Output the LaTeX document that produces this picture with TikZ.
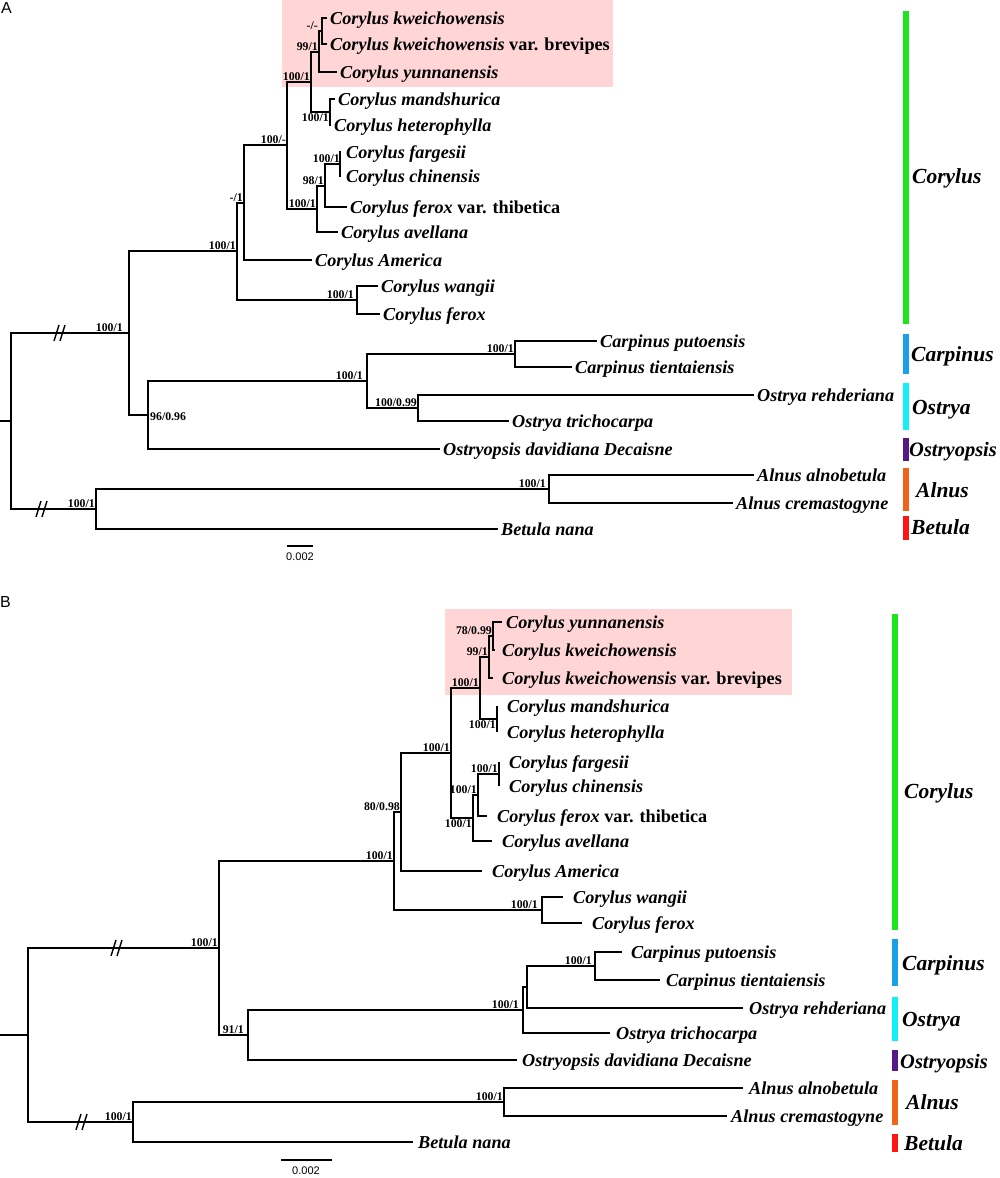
\documentclass[tikz,border=0pt]{standalone}
\usepackage{fontspec}
\setmainfont{Liberation Serif}
\newfontfamily\arialfont{Liberation Sans}

\definecolor{cladeshade}{RGB}{255,213,213}
\definecolor{corylusgreen}{RGB}{30,230,30}
\definecolor{carpinusblue}{RGB}{25,160,230}
\definecolor{ostryacyan}{RGB}{20,240,250}
\definecolor{ostryopsispurple}{RGB}{85,25,135}
\definecolor{alnusorange}{RGB}{240,100,25}
\definecolor{betulared}{RGB}{255,20,20}

\tikzset{
  branch/.style={line width=2pt},
  tip/.style={anchor=west, inner xsep=3pt, inner ysep=0pt, text height=14pt, text depth=2pt,
    font=\fontsize{18.2}{20}\selectfont\bfseries\itshape},
  tipB/.style={tip, inner xsep=7pt},
  supp/.style={anchor=south east, inner sep=1pt, font=\fontsize{11.8}{12}\selectfont\bfseries},
  suppbelow/.style={supp, anchor=north east},
  clade/.style={anchor=west, inner sep=0pt, text height=14pt, text depth=0pt,
    font=\fontsize{21.5}{23}\selectfont\bfseries\itshape},
  cladebar/.style={line width=6pt},
  scalebar/.style={line width=1.4pt},
  panel/.style={anchor=north west, inner sep=0pt, font=\arialfont\fontsize{16}{16}\selectfont},
}

\begin{document}
\begin{tikzpicture}[x=1pt, y=-1pt]
    \providecommand{\cutmark}[2]{\draw[line width=1.4pt] (#1-6,#2+8) -- (#1-1,#2-8) (#1,#2+8) -- (#1+5,#2-8);}
    \useasboundingbox (0,0) rectangle (1000,1178);

    % ---------------- panel A ----------------
    \fill[cladeshade] (282,0) rectangle (613,87);
    \node[panel] (lblA) at (1,2) {A};

    \coordinate (a0) at (0,421);
    \coordinate (aroot) at (11,421);
    \coordinate (aing) at (129,333);
    \coordinate (acor) at (237,251);
    \coordinate (acam) at (244,203);
    \coordinate (aasia) at (287,145);
    \coordinate (akw) at (311,82);
    \coordinate (ayk) at (319,52);
    \coordinate (akk) at (322,31);
    \coordinate (amh) at (330,112);
    \coordinate (afa) at (317,209);
    \coordinate (afc) at (325,186);
    \coordinate (afg) at (340,164);
    \coordinate (awf) at (357,300);
    \coordinate (aoc) at (148,415);
    \coordinate (aco) at (367,381);
    \coordinate (acarp) at (515,354);
    \coordinate (aost) at (418,408);
    \coordinate (aab) at (96,509);
    \coordinate (aaln) at (549,489);

    \node[tip] (akwei) at (327,18) {Corylus kweichowensis};
    \node[tip] (abrev) at (327,44) {Corylus kweichowensis {\upshape var. brevipes}};
    \node[tip] (ayun) at (337,72) {Corylus yunnanensis};
    \node[tip] (amand) at (335,99) {Corylus mandshurica};
    \node[tip] (ahet) at (331,125) {Corylus heterophylla};
    \node[tip, inner xsep=5pt] (afarg) at (341,152) {Corylus fargesii};
    \node[tip, inner xsep=5pt] (achin) at (341,176) {Corylus chinensis};
    \node[tip] (afthib) at (347,207) {Corylus ferox {\upshape var. thibetica}};
    \node[tip] (aaven) at (338,232) {Corylus avellana};
    \node[tip] (aamer) at (312,260) {Corylus America};
    \node[tip] (awang) at (378,286) {Corylus wangii};
    \node[tip] (aferox) at (380,314) {Corylus ferox};
    \node[tip] (aput) at (597,341) {Carpinus putoensis};
    \node[tip] (atien) at (572,367) {Carpinus tientaiensis};
    \node[tip] (areh) at (754,395) {Ostrya rehderiana};
    \node[tip] (atri) at (509,421) {Ostrya trichocarpa};
    \node[tip] (aopsis) at (440,449) {Ostryopsis davidiana Decaisne};
    \node[tip] (aalno) at (754,475) {Alnus alnobetula};
    \node[tip] (acrem) at (733,503) {Alnus cremastogyne};
    \node[tip] (abet) at (498,529) {Betula nana};

    \draw[branch] (a0) -- (aroot);
    \draw[branch] (aroot) |- (aing) (aroot) |- (aab);
    \draw[branch] (aing) |- (acor) (aing) |- (aoc);
    \draw[branch] (acor) |- (acam) (acor) |- (awf);
    \draw[branch] (acam) |- (aasia) (acam) |- (aamer.west);
    \draw[branch] (aasia) |- (akw) (aasia) |- (afa);
    \draw[branch] (akw) |- (ayk) (akw) |- (amh);
    \draw[branch] (ayk) |- (akk) (ayk) |- (ayun.west);
    \draw[branch] (akk) |- (akwei.west) (akk) |- (abrev.west);
    \draw[branch] (amh) |- (amand.west) (amh) |- (ahet.west);
    \draw[branch] (afa) |- (afc) (afa) |- (aaven.west);
    \draw[branch] (afc) |- (afg) (afc) |- (afthib.west);
    \draw[branch] (afg) |- ([xshift=-2pt]afarg.west) (afg) |- ([xshift=-2pt]achin.west);
    \draw[branch] (awf) |- (awang.west) (awf) |- (aferox.west);
    \draw[branch] (aoc) |- (aco) (aoc) |- (aopsis.west);
    \draw[branch] (aco) |- (acarp) (aco) |- (aost);
    \draw[branch] (acarp) |- (aput.west) (acarp) |- (atien.west);
    \draw[branch] (aost) |- (areh.west) (aost) |- (atri.west);
    \draw[branch] (aab) |- (aaln) (aab) |- (abet.west);
    \draw[branch] (aaln) |- (aalno.west) (aaln) |- (acrem.west);
    \cutmark{60}{333}
    \cutmark{42}{509}

    \node[supp, xshift=-5pt] (sAing) at (aing) {100/1};
    \node[supp] (sAcor) at (acor) {100/1};
    \node[supp] (sAcam) at (acam) {-/1};
    \node[supp] (sAasia) at (aasia) {100/-};
    \node[supp] (sAkw) at (akw) {100/1};
    \node[supp] (sAyk) at (ayk) {99/1};
    \node[supp, xshift=-3pt] (sAkk) at (akk) {-/-};
    \node[suppbelow] (sAmh) at (amh) {100/1};
    \node[supp] (sAfa) at (afa) {100/1};
    \node[supp] (sAfc) at (afc) {98/1};
    \node[supp, xshift=1pt] (sAfg) at (afg) {100/1};
    \node[supp, xshift=-2pt] (sAwf) at (awf) {100/1};
    \node[supp, anchor=west, xshift=1pt, yshift=-2pt] (sAoc) at (aoc) {96/0.96};
    \node[supp, xshift=-3pt] (sAco) at (aco) {100/1};
    \node[supp] (sAcarp) at (acarp) {100/1};
    \node[supp] (sAost) at (aost) {100/0.99};
    \node[supp] (sAab) at (aab) {100/1};
    \node[supp, xshift=-2pt] (sAaln) at (aaln) {100/1};

    \draw[scalebar] (287,546) -- (313,546);
    \node[anchor=north, inner sep=0pt, font=\arialfont\fontsize{11}{11}\selectfont] (scA) at (300,553) {0.002};

    \draw[cladebar, corylusgreen] (906,11) -- (906,324);
    \draw[cladebar, carpinusblue] (906,334) -- (906,374);
    \draw[cladebar, ostryacyan] (906,383) -- (906,430);
    \draw[cladebar, ostryopsispurple] (906,438) -- (906,461);
    \draw[cladebar, alnusorange] (906,468) -- (906,511);
    \draw[cladebar, betulared] (906,516) -- (906,540);
    \node[clade] (cAcor) at (912,176) {Corylus};
    \node[clade] (cAcarp) at (911,354) {Carpinus};
    \node[clade] (cAost) at (912,407) {Ostrya};
    \node[clade, font=\fontsize{20.5}{22}\selectfont\bfseries\itshape] (cAopsis) at (909,449) {Ostryopsis};
    \node[clade] (cAaln) at (916,490) {Alnus};
    \node[clade] (cAbet) at (911,527) {Betula};

    % ---------------- panel B ----------------
    \fill[cladeshade] (445,609) rectangle (792,695);
    \node[panel] (lblB) at (0,596) {B};

    \coordinate (b0) at (0,1035);
    \coordinate (broot) at (28,1035);
    \coordinate (bing) at (219,948);
    \coordinate (bcor) at (394,861);
    \coordinate (bcam) at (401,812);
    \coordinate (basia) at (451,753);
    \coordinate (bkw) at (480,688);
    \coordinate (byk) at (489,657);
    \coordinate (byu) at (493,636);
    \coordinate (bmh) at (497,719);
    \coordinate (bfa) at (473,818);
    \coordinate (bfc) at (478,795);
    \coordinate (bfg) at (499,774);
    \coordinate (bwf) at (542,910);
    \coordinate (boc) at (248,1035);
    \coordinate (bco) at (523,1010);
    \coordinate (bcr) at (527,987);
    \coordinate (bcarp) at (595,966);
    \coordinate (bab) at (133,1122);
    \coordinate (baln) at (504,1102);

    \node[tipB, inner xsep=4pt] (byun) at (502,622) {Corylus yunnanensis};
    \node[tipB] (bkwei) at (495,650) {Corylus kweichowensis};
    \node[tipB, inner xsep=9pt] (bbrev) at (493,678) {Corylus kweichowensis {\upshape var. brevipes}};
    \node[tipB, inner xsep=10pt] (bmand) at (497,706) {Corylus mandshurica};
    \node[tipB, inner xsep=10pt] (bhet) at (497,732) {Corylus heterophylla};
    \node[tipB, inner xsep=10pt] (bfarg) at (499,762) {Corylus fargesii};
    \node[tipB, inner xsep=10pt] (bchin) at (499,786) {Corylus chinensis};
    \node[tipB, inner xsep=10pt] (bfthib) at (487,816) {Corylus ferox {\upshape var. thibetica}};
    \node[tipB, inner xsep=10pt] (baven) at (492,841) {Corylus avellana};
    \node[tipB, inner xsep=10pt] (bamer) at (482,871) {Corylus America};
    \node[tipB, inner xsep=10pt] (bwang) at (563,897) {Corylus wangii};
    \node[tipB, inner xsep=10pt] (bferox) at (582,923) {Corylus ferox};
    \node[tipB, inner xsep=9pt] (bput) at (622,952) {Carpinus putoensis};
    \node[tipB, inner xsep=6pt] (btien) at (660,980) {Carpinus tientaiensis};
    \node[tipB, inner xsep=6pt] (breh) at (743,1008) {Ostrya rehderiana};
    \node[tipB, inner xsep=6pt] (btri) at (610,1033) {Ostrya trichocarpa};
    \node[tipB, inner xsep=5pt] (bopsis) at (517,1060) {Ostryopsis davidiana Decaisne};
    \node[tipB, inner xsep=6pt] (balno) at (743,1088) {Alnus alnobetula};
    \node[tipB, inner xsep=4pt] (bcrem) at (727,1116) {Alnus cremastogyne};
    \node[tipB, inner xsep=5pt] (bbet) at (413,1142) {Betula nana};

    \draw[branch] (b0) -- (broot);
    \draw[branch] (broot) |- (bing) (broot) |- (bab);
    \draw[branch] (bing) |- (bcor) (bing) |- (boc);
    \draw[branch] (bcor) |- (bcam) (bcor) |- (bwf);
    \draw[branch] (bcam) |- (basia) (bcam) |- (bamer.west);
    \draw[branch] (basia) |- (bkw) (basia) |- (bfa);
    \draw[branch] (bkw) |- (byk) (bkw) |- (bmh);
    \draw[branch] (byk) |- (byu) (byk) |- (bbrev.west);
    \draw[branch] (byu) |- (byun.west) (byu) |- (bkwei.west);
    \draw[branch] (bmh) |- (bmand.west) (bmh) |- (bhet.west);
    \draw[branch] (bfa) |- (bfc) (bfa) |- (baven.west);
    \draw[branch] (bfc) |- (bfg) (bfc) |- (bfthib.west);
    \draw[branch] (bfg) |- (bfarg.west) (bfg) |- (bchin.west);
    \draw[branch] (bwf) |- (bwang.west) (bwf) |- (bferox.west);
    \draw[branch] (boc) |- (bco) (boc) |- (bopsis.west);
    \draw[branch] (bco) |- (bcr) (bco) |- (btri.west);
    \draw[branch] (bcr) |- (bcarp) (bcr) |- (breh.west);
    \draw[branch] (bcarp) |- (bput.west) (bcarp) |- (btien.west);
    \draw[branch] (bab) |- (baln) (bab) |- (bbet.west);
    \draw[branch] (baln) |- (balno.west) (baln) |- (bcrem.west);
    \cutmark{117}{948}
    \cutmark{82}{1122}

    \node[supp] (sBing) at (bing) {100/1};
    \node[supp] (sBcor) at (bcor) {100/1};
    \node[supp] (sBcam) at (bcam) {80/0.98};
    \node[supp] (sBasia) at (basia) {100/1};
    \node[supp] (sBkw) at (bkw) {100/1};
    \node[supp] (sByk) at (byk) {99/1};
    \node[supp] (sByu) at (byu) {78/0.99};
    \node[suppbelow] (sBmh) at (bmh) {100/1};
    \node[suppbelow] (sBfa) at (bfa) {100/1};
    \node[supp] (sBfc) at (bfc) {100/1};
    \node[supp] (sBfg) at (bfg) {100/1};
    \node[supp, xshift=-3pt] (sBwf) at (bwf) {100/1};
    \node[supp, xshift=-3pt] (sBoc) at (boc) {91/1};
    \node[supp, xshift=-3pt] (sBco) at (bco) {100/1};
    \node[supp, xshift=-2pt] (sBcarp) at (bcarp) {100/1};
    \node[supp] (sBab) at (bab) {100/1};
    \node[supp] (sBaln) at (baln) {100/1};

    \draw[scalebar] (281,1160) -- (332,1160);
    \node[anchor=north, inner sep=0pt, font=\arialfont\fontsize{11}{11}\selectfont] (scB) at (306,1167) {0.002};

    \draw[cladebar, corylusgreen] (895,614) -- (895,930);
    \draw[cladebar, carpinusblue] (895,939) -- (895,986);
    \draw[cladebar, ostryacyan] (895,997) -- (895,1041);
    \draw[cladebar, ostryopsispurple] (895,1050) -- (895,1071);
    \draw[cladebar, alnusorange] (895,1080) -- (895,1125);
    \draw[cladebar, betulared] (895,1134) -- (895,1152);
    \node[clade] (cBcor) at (904,791) {Corylus};
    \node[clade] (cBcarp) at (902,963) {Carpinus};
    \node[clade] (cBost) at (902,1019) {Ostrya};
    \node[clade, font=\fontsize{20.5}{22}\selectfont\bfseries\itshape] (cBopsis) at (900,1061) {Ostryopsis};
    \node[clade] (cBaln) at (906,1102) {Alnus};
    \node[clade] (cBbet) at (904,1143) {Betula};
\end{tikzpicture}
\end{document}
